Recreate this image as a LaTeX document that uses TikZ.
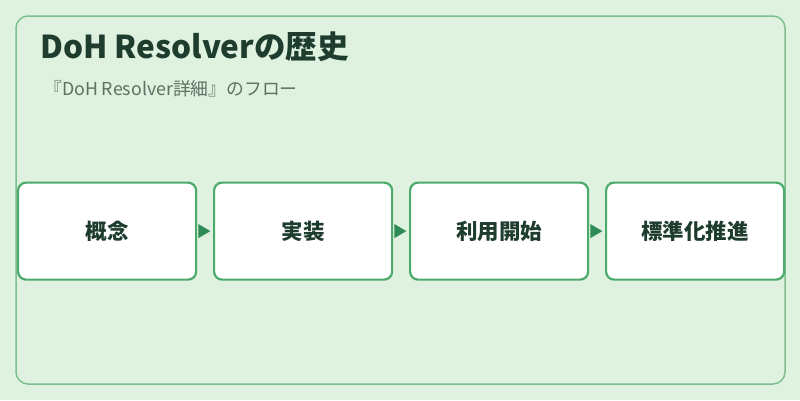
\documentclass[tikz,border=0pt]{standalone}
\usepackage{fontspec}
\setmainfont{Noto Sans CJK JP}
\definecolor{bgc}{HTML}{DFF1DF}
\definecolor{frame}{HTML}{7FBF8F}
\definecolor{boxline}{HTML}{4CAA6A}
\definecolor{arrowc}{HTML}{2E8B57}
\definecolor{titlec}{HTML}{1F3D2F}
\definecolor{subc}{HTML}{5F6F63}
\tikzset{
  stepbox/.style={draw=boxline, line width=2.2pt, fill=white, rounded corners=8pt,
    minimum width=178pt, minimum height=97pt, inner sep=0pt, anchor=north west,
    font=\fontsize{21.5pt}{24pt}\selectfont\bfseries, text=titlec},
  tip/.style={fill=arrowc}
}
\begin{document}
\begin{tikzpicture}[x=1pt,y=-1pt]
\useasboundingbox (0,0) rectangle (800,400);
\fill[bgc] (0,0) rectangle (800,400);
\draw[frame, line width=1.5pt, rounded corners=12pt] (16,16) rectangle (785,384);
\node[anchor=base west, inner sep=0pt, text=titlec, font=\fontsize{31.5pt}{35pt}\selectfont\bfseries] (title) at (40,58) {DoH Resolverの歴史};
\node[anchor=base west, inner sep=0pt, text=subc, font=\fontsize{17.8pt}{21pt}\selectfont] (sub) at (44,95) {『DoH Resolver詳細』のフロー};
\node[stepbox] (a) at (17,181.5) {概念};
\node[stepbox] (b) at (213,181.5) {実装};
\node[stepbox] (c) at (409,181.5) {利用開始};
\node[stepbox] (d) at (605,181.5) {標準化推進};
\fill[tip] ([xshift=1.2pt]a.east) ++(0,-7) -- ++(12,7) -- ++(-12,7) -- cycle;
\fill[tip] ([xshift=1.2pt]b.east) ++(0,-7) -- ++(12,7) -- ++(-12,7) -- cycle;
\fill[tip] ([xshift=1.2pt]c.east) ++(0,-7) -- ++(12,7) -- ++(-12,7) -- cycle;
\end{tikzpicture}
\end{document}
